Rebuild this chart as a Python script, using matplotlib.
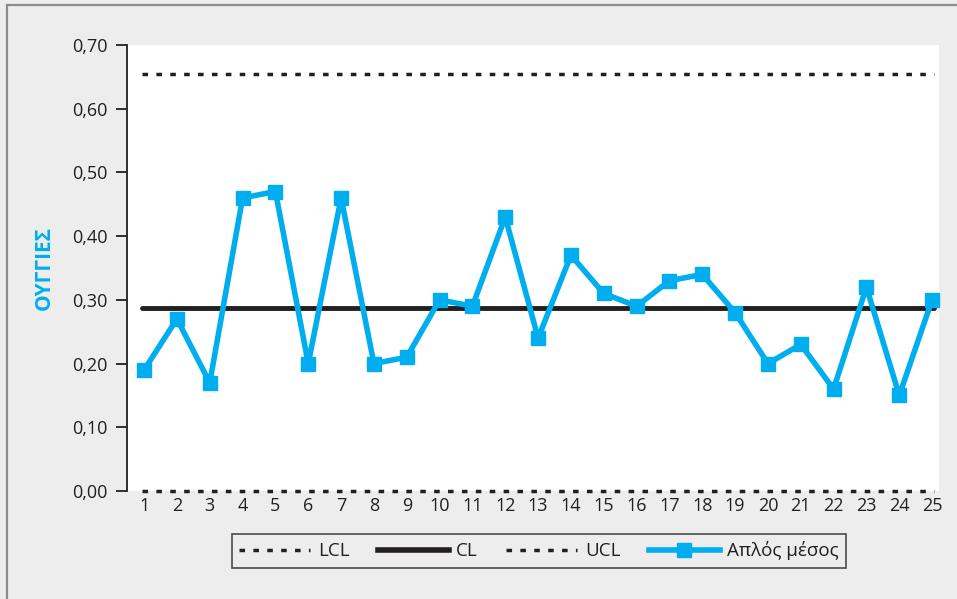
import matplotlib.pyplot as plt
from matplotlib.patches import Rectangle
from matplotlib.lines import Line2D

plt.rcParams['font.family'] = ['Open Sans', 'DejaVu Sans']

# control chart data
samples = list(range(1, 26))
means = [0.19, 0.27, 0.17, 0.46, 0.47, 0.20, 0.46, 0.20, 0.21, 0.30,
         0.29, 0.43, 0.24, 0.37, 0.31, 0.29, 0.33, 0.34, 0.28, 0.20,
         0.23, 0.16, 0.32, 0.15, 0.30]
lcl = 0.0
cl = 0.288
ucl = 0.655
yticks = [0.0, 0.1, 0.2, 0.3, 0.4, 0.5, 0.6, 0.7]

blue = '#00aeef'
dark = '#231f20'
bg = '#ededed'

W, H = 957, 599
fig = plt.figure(figsize=(W / 100, H / 100), dpi=100, facecolor=bg)
fig.patches.append(Rectangle((7.5 / W, -0.05), 1.1, 1 - 4.5 / H + 0.05,
                             transform=fig.transFigure, fill=False,
                             edgecolor='#8c8c8c', lw=1.6))

ax = fig.add_axes([128 / W, 1 - 491 / H, (939 - 128) / W, (491 - 45) / H])
ax.set_facecolor('white')

dots = (0, (1.6, 2.4))
ax.plot([0.95, 25.05], [lcl, lcl], color=dark, lw=2.5, ls=dots, label='LCL', clip_on=False)
ax.plot([0.95, 25.05], [cl, cl], color=dark, lw=3.5, label='CL', solid_capstyle='round')
ax.plot([0.95, 25.05], [ucl, ucl], color=dark, lw=2.5, ls=dots, label='UCL')
ax.plot(samples, means, color=blue, lw=4, marker='s', ms=10.5, mec=blue,
        label='Απλός μέσος', clip_on=False, zorder=5)

ax.set_xlim(0.51, 25.21)
ax.set_ylim(0, 0.7)
ax.set_yticks(yticks)
ax.set_yticklabels([f'{v:.2f}'.replace('.', ',') for v in yticks])
ax.set_xticks(samples)
ax.tick_params(axis='y', length=8, width=1.3, color=dark, labelsize=13,
               labelcolor=dark, pad=6)
ax.tick_params(axis='x', length=0, labelsize=13, labelcolor=dark, pad=4)
for s in ['top', 'right', 'bottom']:
    ax.spines[s].set_visible(False)
ax.spines['left'].set_color(dark)
ax.spines['left'].set_linewidth(1.3)
ax.spines['left'].set_position(('outward', 1))

ax.set_ylabel('ΟΥΓΓΙΕΣ', color=blue, fontsize=15, fontweight='bold', labelpad=12)

handles = [
    Line2D([], [], color=dark, lw=2.5, ls=dots),
    Line2D([], [], color=dark, lw=4),
    Line2D([], [], color=dark, lw=2.5, ls=dots),
    Line2D([], [], color=blue, lw=4, marker='s', ms=10.5),
]
leg = fig.legend(handles, ['LCL', 'CL', 'UCL', 'Απλός μέσος'], loc='center',
                 bbox_to_anchor=(539 / W, 1 - 551 / H), ncol=4, frameon=True,
                 fancybox=False, edgecolor=dark, facecolor=bg, fontsize=13.5,
                 handlelength=3.8, handletextpad=0.4, columnspacing=1.5,
                 borderpad=0.4)
leg.get_frame().set_linewidth(1.2)
for t in leg.get_texts():
    t.set_color(dark)

fig.savefig('out.png', dpi=100, facecolor=bg)
